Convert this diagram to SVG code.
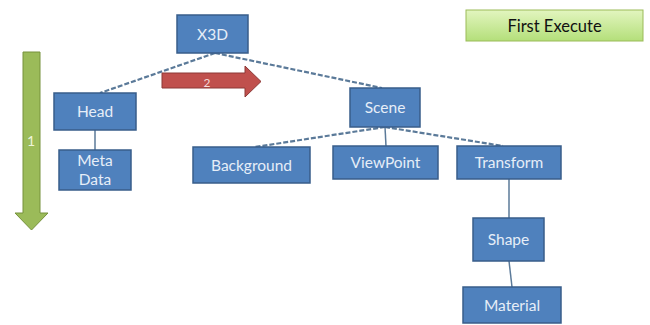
<svg xmlns="http://www.w3.org/2000/svg" width="650" height="325" viewBox="0 0 650 325">
  <defs>
    <linearGradient id="execFill" x1="0" y1="0" x2="0" y2="1">
      <stop offset="0" stop-color="#e2f5bf"/>
      <stop offset="1" stop-color="#b4df7a"/>
    </linearGradient>
    <style>
      .node rect { fill: #4f81bd; stroke: #385d8a; stroke-width: 1.5; }
      .node text { fill: #e6eef8; font-family: Lato, "Liberation Sans", sans-serif; font-size: 15.5px; text-anchor: middle; }
      .dash { stroke: #5b7a99; stroke-width: 2.2; stroke-dasharray: 5 2; fill: none; }
      .solid { stroke: #5b7a99; stroke-width: 1.5; fill: none; }
    </style>
  </defs>
  <rect width="650" height="325" fill="#ffffff"/>

  <!-- connectors -->
  <g id="connectors">
    <line class="dash" x1="215" y1="53" x2="100" y2="93"/>
    <line class="dash" x1="215" y1="53" x2="382" y2="88"/>
    <line class="solid" x1="95" y1="130" x2="95" y2="150"/>
    <line class="dash" x1="385" y1="127" x2="255" y2="147"/>
    <line class="solid" x1="385" y1="127" x2="386" y2="146"/>
    <line class="dash" x1="385" y1="127" x2="503" y2="146"/>
    <line class="solid" x1="509" y1="179" x2="509" y2="218"/>
    <line class="solid" x1="509" y1="261" x2="512" y2="287"/>
  </g>

  <!-- step arrows -->
  <g id="step1">
    <path d="M23,52 H40 V213 H48 L31.5,230 L15,213 H23 Z" fill="#9bbb59" stroke="#76923c" stroke-width="1"/>
    <text x="31" y="146" fill="#eef5dc" font-family="Lato, 'Liberation Sans', sans-serif" font-size="14" text-anchor="middle">1</text>
  </g>
  <g id="step2">
    <path d="M162,73 H245 V66 L261,81.5 L245,97 V88 H162 Z" fill="#c0504d" stroke="#8c3836" stroke-width="1"/>
    <text x="207" y="86.5" fill="#f4dcdb" font-family="Lato, 'Liberation Sans', sans-serif" font-size="12" text-anchor="middle">2</text>
  </g>

  <!-- legend -->
  <g id="first-execute">
    <rect x="466" y="10" width="177" height="31" fill="url(#execFill)" stroke="#9bbb59" stroke-width="1"/>
    <text x="554.5" y="31.5" fill="#111111" font-family="Lato, 'Liberation Sans', sans-serif" font-size="16.5" text-anchor="middle">First Execute</text>
  </g>

  <!-- nodes -->
  <g id="x3d" class="node">
    <rect x="177" y="15" width="71" height="38"/>
    <text x="212.5" y="39.5">X3D</text>
  </g>
  <g id="head" class="node">
    <rect x="54" y="93" width="82" height="37"/>
    <text x="95" y="117">Head</text>
  </g>
  <g id="metadata" class="node">
    <rect x="59" y="150" width="72" height="40"/>
    <text x="95" y="166">Meta</text>
    <text x="95" y="185">Data</text>
  </g>
  <g id="scene" class="node">
    <rect x="350" y="88" width="70" height="39"/>
    <text x="385" y="113">Scene</text>
  </g>
  <g id="background" class="node">
    <rect x="193" y="147" width="117" height="36"/>
    <text x="251.5" y="170.5">Background</text>
  </g>
  <g id="viewpoint" class="node">
    <rect x="333" y="146" width="105" height="33"/>
    <text x="385.5" y="167.5">ViewPoint</text>
  </g>
  <g id="transform" class="node">
    <rect x="457" y="146" width="104" height="33"/>
    <text x="509" y="167.5">Transform</text>
  </g>
  <g id="shape" class="node">
    <rect x="473" y="218" width="71" height="43"/>
    <text x="508.5" y="244.5">Shape</text>
  </g>
  <g id="material" class="node">
    <rect x="463" y="287" width="98" height="36"/>
    <text x="512" y="310.5">Material</text>
  </g>
</svg>
